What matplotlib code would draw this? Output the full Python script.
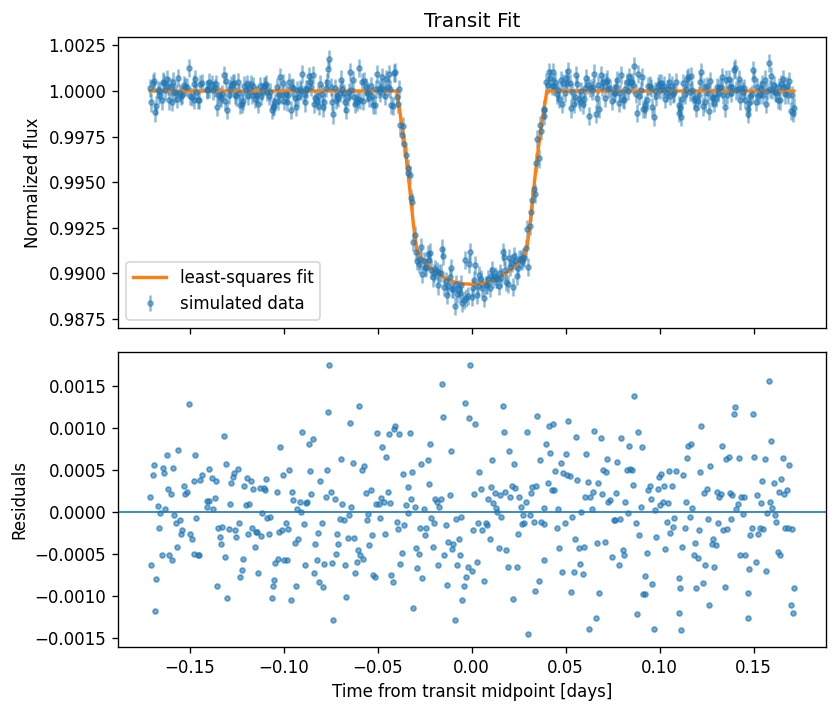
import numpy as np
import matplotlib
matplotlib.use("Agg")
import matplotlib.pyplot as plt
from matplotlib.ticker import MultipleLocator

# Residuals (time in days, residual in flux units)
time_days = [
    -0.1504, -0.1562, -0.1621, -0.1472, -0.1690, -0.1642, -0.1589, -0.1695, -0.1637, -0.1435,
    -0.1445, -0.1477, -0.1530, -0.1615, -0.1599, -0.1516, -0.1527, -0.1711, -0.1669, -0.1631,
    -0.1658, -0.1584, -0.1466, -0.1552, -0.1574, -0.1663, -0.1541, -0.1498, -0.1546, -0.1491,
    -0.1568, -0.1647, -0.1610, -0.1480, -0.1457, -0.1451, -0.1594, -0.1706, -0.1679, -0.1684,
    -0.1318, -0.1307, -0.1397, -0.1243, -0.1264, -0.1270, -0.1381, -0.1360, -0.1280, -0.1195,
    -0.1172, -0.1094, -0.1211, -0.1163, -0.1126, -0.1106, -0.1099, -0.1365, -0.1410, -0.1397,
    -0.1410, -0.1376, -0.1286, -0.1201, -0.1185, -0.1115, -0.1089, -0.1073, -0.1238, -0.1349,
    -0.1328, -0.1291, -0.1259, -0.1339, -0.1254, -0.1190, -0.1169, -0.1147, -0.1142, -0.1121,
    -0.1078, -0.1334, -0.1153, -0.1312, -0.1216, -0.1222, -0.1137, -0.1232, -0.1355, -0.1302,
    -0.0759, -0.0764, -0.0903, -0.0844, -0.0865, -0.1020, -0.0972, -0.1004, -0.0860, -0.0770,
    -0.0807, -0.1036, -0.0956, -0.0855, -0.0775, -0.0748, -0.0727, -0.0951, -0.0913, -0.0881,
    -0.0876, -0.0929, -0.0908, -0.0988, -0.0796, -0.0892, -0.1025, -0.1009, -0.0977, -0.0818,
    -0.0716, -0.0940, -0.0924, -0.0834, -0.0711, -0.0722, -0.1030, -0.0998, -0.0982, -0.1046,
    -0.0887, -0.0823, -0.0786, -0.0743, -0.0839, -0.0812, -0.0791, -0.1052, -0.1055, -0.0935,
    -0.1064, -0.0961, -0.0738,
    -0.0599, -0.0647, -0.0504, -0.0440, -0.0413, -0.0408, -0.0387, -0.0477, -0.0456, -0.0695,
    -0.0631, -0.0573, -0.0584, -0.0365, -0.0562, -0.0536, -0.0445, -0.0482, -0.0466, -0.0509,
    -0.0493, -0.0435, -0.0690, -0.0642, -0.0349, -0.0552, -0.0653, -0.0488, -0.0557, -0.0397,
    -0.0699, -0.0679, -0.0360, -0.0392, -0.0461, -0.0658, -0.0626, -0.0530, -0.0546, -0.0605,
    -0.0594, -0.0578, -0.0610, -0.0674, -0.0371, -0.0381, -0.0621, -0.0525, -0.0514, -0.0429,
    -0.0419, -0.0669,
    -0.0009, -0.0158, -0.0036, -0.0153, -0.0014, 0.0018, -0.0328, -0.0222, -0.0110, -0.0232,
    -0.0270, -0.0318, -0.0339, -0.0227, -0.0323, -0.0115, 0.0012, -0.0195, -0.0163, -0.0185,
    -0.0174, -0.0302, -0.0254, -0.0339, -0.0216, -0.0201, -0.0137, -0.0084, -0.0057, -0.0275,
    -0.0243, -0.0248, 0.0007, -0.0296, -0.0280, -0.0206, -0.0126, -0.0099, -0.0105, -0.0068,
    -0.0147, -0.0062, -0.0291, -0.0179, -0.0078, -0.0020, 0.0002, -0.0264, -0.0030, -0.0041,
    -0.0131, -0.0052, -0.0312, -0.0089,
    0.0167, 0.0347, 0.0172, 0.0294, 0.0198, 0.0108, 0.0363, 0.0225, 0.0039, 0.0103,
    0.0049, 0.0214, 0.0230, 0.0321, 0.0342, 0.0124, 0.0151, 0.0177, 0.0204, 0.0252,
    0.0315, 0.0087, 0.0113, 0.0129, 0.0135, 0.0156, 0.0289, 0.0262, 0.0273, 0.0310,
    0.0034, 0.0076, 0.0081, 0.0055, 0.0097, 0.0246, 0.0268, 0.0278, 0.0331, 0.0369,
    0.0145, 0.0182, 0.0193, 0.0241, 0.0030, 0.0065, 0.0358, 0.0337, 0.0220, 0.0299,
    0.0512, 0.0411, 0.0432, 0.0651, 0.0555, 0.0688, 0.0395, 0.0416, 0.0502, 0.0608,
    0.0720, 0.0475, 0.0443, 0.0486, 0.0507, 0.0523, 0.0698, 0.0714, 0.0560, 0.0406,
    0.0619, 0.0672, 0.0427, 0.0438, 0.0645, 0.0603, 0.0629, 0.0693, 0.0725, 0.0736,
    0.0383, 0.0459, 0.0581, 0.0640, 0.0534, 0.0496, 0.0454, 0.0387, 0.0549, 0.0464,
    0.0571, 0.0597, 0.0666, 0.0709, 0.0576, 0.0480, 0.0544, 0.0592, 0.0387, 0.0528,
    0.0677, 0.0661, 0.0624,
    0.0863, 0.0885, 0.0794, 0.0837, 0.0906, 0.0773, 0.0826, 0.0842, 0.0853, 0.1087,
    0.1049, 0.1007, 0.0996, 0.0858, 0.0948, 0.0938, 0.0991, 0.1023, 0.1065, 0.0768,
    0.0954, 0.1018, 0.1044, 0.1002, 0.0901, 0.0815, 0.0975, 0.0831, 0.0757, 0.0762,
    0.0789, 0.0874, 0.1039, 0.1076, 0.1071, 0.1055, 0.0890, 0.0980, 0.1028, 0.0932,
    0.0805, 0.0810, 0.0748, 0.0784, 0.0922, 0.0959, 0.0911, 0.0922, 0.0879, 0.0970,
    0.1401, 0.1395, 0.1220, 0.1151, 0.1166, 0.1331, 0.1145, 0.1353, 0.1369, 0.1422,
    0.1268, 0.1124, 0.1214, 0.1252, 0.1236, 0.1305, 0.1315, 0.1326, 0.1374, 0.1385,
    0.1432, 0.1448, 0.1140, 0.1172, 0.1416, 0.1406, 0.1161, 0.1443, 0.1257, 0.1310,
    0.1379, 0.1135, 0.1209, 0.1337, 0.1358, 0.1119, 0.1188, 0.1278, 0.1284, 0.1299,
    0.1182, 0.1204, 0.1241, 0.1289, 0.1427, 0.1454, 0.1193, 0.1230, 0.1347, 0.1101,
    0.1106, 0.1262, 0.1101, 0.1115,
    0.1581, 0.1496, 0.1592, 0.1502, 0.1560, 0.1656, 0.1688, 0.1544, 0.1608, 0.1645,
    0.1635, 0.1661, 0.1677, 0.1518, 0.1539, 0.1587, 0.1597, 0.1571, 0.1613, 0.1619,
    0.1491, 0.1480, 0.1523, 0.1534, 0.1549, 0.1666, 0.1682, 0.1704, 0.1629, 0.1640,
    0.1512, 0.1565, 0.1477, 0.1468, 0.1472, 0.1714, 0.1698, 0.1709,
]

residuals = [
    0.00128, 0.00073, 0.00067, 0.00067, 0.00056, 0.00052, 0.00052, 0.00044, 0.00046, 0.00044,
    0.00038, 0.00036, 0.00031, 0.00027, 0.00021, 0.00024, 0.00021, 0.00018, 0.00007, 0.00003,
    -0.00002, -0.00004, -0.00008, -0.00010, -0.00013, -0.00020, -0.00022, -0.00026, -0.00027, -0.00032,
    -0.00042, -0.00052, -0.00052, -0.00050, -0.00051, -0.00051, -0.00058, -0.00063, -0.00080, -0.00118,
    0.00090, 0.00057, 0.00051, 0.00051, 0.00046, 0.00041, 0.00040, 0.00036, 0.00034, 0.00040,
    0.00036, 0.00039, 0.00030, 0.00027, 0.00028, 0.00028, 0.00026, 0.00016, 0.00013, 0.00013,
    0.00006, 0.00003, 0.00009, 0.00008, 0.00009, -0.00001, -0.00007, -0.00006, -0.00013, -0.00020,
    -0.00018, -0.00021, -0.00022, -0.00030, -0.00030, -0.00027, -0.00020, -0.00024, -0.00024, -0.00029,
    -0.00027, -0.00039, -0.00042, -0.00054, -0.00056, -0.00069, -0.00073, -0.00078, -0.00088, -0.00103,
    0.00174, 0.00119, 0.00095, 0.00087, 0.00081, 0.00077, 0.00050, 0.00044, 0.00048, 0.00050,
    0.00036, 0.00023, 0.00024, 0.00021, 0.00017, 0.00023, 0.00015, 0.00014, 0.00012, 0.00010,
    0.00012, 0.00003, 0.00000, -0.00014, -0.00014, -0.00015, -0.00024, -0.00022, -0.00021, -0.00025,
    -0.00026, -0.00037, -0.00033, -0.00039, -0.00038, -0.00050, -0.00056, -0.00057, -0.00058, -0.00061,
    -0.00063, -0.00057, -0.00062, -0.00061, -0.00073, -0.00084, -0.00090, -0.00081, -0.00088, -0.00088,
    -0.00103, -0.00105, -0.00129,
    0.00126, 0.00105, 0.00094, 0.00092, 0.00098, 0.00102, 0.00092, 0.00077, 0.00065, 0.00063,
    0.00058, 0.00054, 0.00050, 0.00045, 0.00022, 0.00026, 0.00024, 0.00016, 0.00012, 0.00009,
    0.00009, 0.00010, 0.00009, 0.00006, 0.00008, -0.00003, -0.00004, -0.00008, -0.00010, -0.00012,
    -0.00009, -0.00010, -0.00016, -0.00021, -0.00026, -0.00031, -0.00031, -0.00028, -0.00040, -0.00045,
    -0.00051, -0.00056, -0.00060, -0.00063, -0.00049, -0.00062, -0.00073, -0.00075, -0.00078, -0.00075,
    -0.00084, -0.00102,
    0.00174, 0.00152, 0.00129, 0.00113, 0.00111, 0.00104, 0.00094, 0.00081, 0.00072, 0.00062,
    0.00057, 0.00047, 0.00029, 0.00033, 0.00015, 0.00020, 0.00021, 0.00015, 0.00015, 0.00011,
    0.00006, 0.00005, 0.00003, -0.00002, -0.00008, -0.00013, -0.00016, -0.00009, -0.00006, -0.00019,
    -0.00019, -0.00028, -0.00022, -0.00043, -0.00050, -0.00042, -0.00036, -0.00039, -0.00044, -0.00032,
    -0.00051, -0.00052, -0.00067, -0.00064, -0.00063, -0.00066, -0.00070, -0.00079, -0.00078, -0.00088,
    -0.00087, -0.00105, -0.00115, -0.00129,
    0.00126, 0.00114, 0.00095, 0.00095, 0.00072, 0.00062, 0.00062, 0.00057, 0.00047, 0.00029,
    0.00027, 0.00030, 0.00028, 0.00029, 0.00030, 0.00022, 0.00020, 0.00024, 0.00017, 0.00017,
    0.00022, 0.00015, 0.00010, 0.00004, 0.00000, -0.00006, 0.00012, 0.00005, -0.00004, -0.00004,
    -0.00014, -0.00014, -0.00016, -0.00022, -0.00033, -0.00027, -0.00015, -0.00013, -0.00012, -0.00012,
    -0.00043, -0.00045, -0.00066, -0.00066, -0.00060, -0.00082, -0.00082, -0.00094, -0.00104, -0.00145,
    0.00108, 0.00102, 0.00104, 0.00096, 0.00089, 0.00088, 0.00081, 0.00070, 0.00069, 0.00069,
    0.00063, 0.00058, 0.00048, 0.00046, 0.00044, 0.00042, 0.00050, 0.00047, 0.00038, 0.00034,
    0.00035, 0.00034, 0.00026, 0.00026, 0.00023, 0.00017, 0.00017, 0.00021, 0.00012, 0.00014,
    0.00004, 0.00003, 0.00000, 0.00003, -0.00006, -0.00013, -0.00019, -0.00015, -0.00032, -0.00043,
    -0.00043, -0.00042, -0.00037, -0.00036, -0.00062, -0.00072, -0.00072, -0.00074, -0.00057, -0.00096,
    -0.00097, -0.00126, -0.00139,
    0.00138, 0.00095, 0.00088, 0.00078, 0.00077, 0.00059, 0.00050, 0.00051, 0.00050, 0.00048,
    0.00048, 0.00045, 0.00041, 0.00032, 0.00030, 0.00026, 0.00027, 0.00030, 0.00030, 0.00022,
    0.00015, 0.00012, 0.00010, 0.00008, 0.00005, 0.00011, 0.00002, -0.00001, -0.00010, -0.00010,
    -0.00009, -0.00014, -0.00012, -0.00008, -0.00018, -0.00025, -0.00028, -0.00030, -0.00044, -0.00049,
    -0.00046, -0.00051, -0.00054, -0.00064, -0.00076, -0.00086, -0.00098, -0.00098, -0.00122, -0.00140,
    0.00124, 0.00116, 0.00102, 0.00078, 0.00080, 0.00078, 0.00064, 0.00063, 0.00065, 0.00064,
    0.00054, 0.00044, 0.00047, 0.00027, 0.00022, 0.00024, 0.00018, 0.00021, 0.00022, 0.00020,
    0.00018, 0.00017, 0.00011, 0.00004, 0.00009, 0.00003, -0.00006, -0.00003, -0.00009, -0.00013,
    -0.00009, -0.00019, -0.00022, -0.00022, -0.00021, -0.00042, -0.00037, -0.00038, -0.00033, -0.00040,
    -0.00051, -0.00055, -0.00063, -0.00066, -0.00052, -0.00051, -0.00091, -0.00085, -0.00090, -0.00079,
    -0.00091, -0.00111, -0.00121, -0.00141,
    0.00155, 0.00116, 0.00084, 0.00065, 0.00063, 0.00064, 0.00056, 0.00036, 0.00034, 0.00039,
    0.00024, 0.00021, 0.00026, 0.00020, 0.00010, 0.00012, 0.00004, -0.00001, -0.00004, -0.00012,
    -0.00019, -0.00028, -0.00026, -0.00019, -0.00021, -0.00019, -0.00020, -0.00021, -0.00048, -0.00052,
    -0.00060, -0.00070, -0.00068, -0.00097, -0.00126, -0.00091, -0.00111, -0.00121,
]

# Least-squares fit curve
model_t = [-0.1711, -0.0400, -0.0385, -0.0370, -0.0355, -0.0340, -0.0325, -0.0310, -0.0295,
           -0.0285, -0.0260, -0.0220, -0.0180, -0.0140, -0.0100, -0.0050, 0.0000,
           0.0050, 0.0100, 0.0140, 0.0180, 0.0220, 0.0260, 0.0285, 0.0295, 0.0310,
           0.0325, 0.0340, 0.0355, 0.0370, 0.0385, 0.0400, 0.1714]
model_flux = [1.00000, 1.00000, 0.99905, 0.99800, 0.99690, 0.99560, 0.99415, 0.99265, 0.99150,
              0.99110, 0.99070, 0.99030, 0.98997, 0.98972, 0.98953, 0.98942, 0.98939,
              0.98942, 0.98953, 0.98972, 0.98997, 0.99030, 0.99070, 0.99110, 0.99150, 0.99265,
              0.99415, 0.99560, 0.99690, 0.99800, 0.99905, 1.00000, 1.00000]
flux_err = 0.0005

t = np.array(time_days)
res = np.array(residuals)
order = np.argsort(t)
t = t[order]
res = res[order]
flux = np.interp(t, model_t, model_flux) + res

DPI = 120
fig = plt.figure(figsize=(838 / DPI, 707 / DPI), dpi=DPI)
ax1 = fig.add_axes([0.1408, 0.5361, 0.8449, 0.4116])
ax2 = fig.add_axes([0.1408, 0.0849, 0.8449, 0.4172], sharex=ax1)

eb = ax1.errorbar(t, flux, yerr=flux_err, fmt='.', color='C0', alpha=0.5,
                  label='simulated data')
ln, = ax1.plot(model_t, model_flux, color='C1', lw=2, label='least-squares fit')
ax1.set_ylabel('Normalized flux')
ax1.set_title('Transit Fit')
ax1.yaxis.set_major_locator(MultipleLocator(0.0025))
ax1.legend(handles=[ln, eb], loc='lower left')
plt.setp(ax1.get_xticklabels(), visible=False)

ax2.plot(t, res, '.', color='C0', alpha=0.6)
ax2.axhline(0, color='C0', lw=1)
ax2.set_ylabel('Residuals')
ax2.set_xlabel('Time from transit midpoint [days]')

fig.savefig('out.png', dpi=DPI)
